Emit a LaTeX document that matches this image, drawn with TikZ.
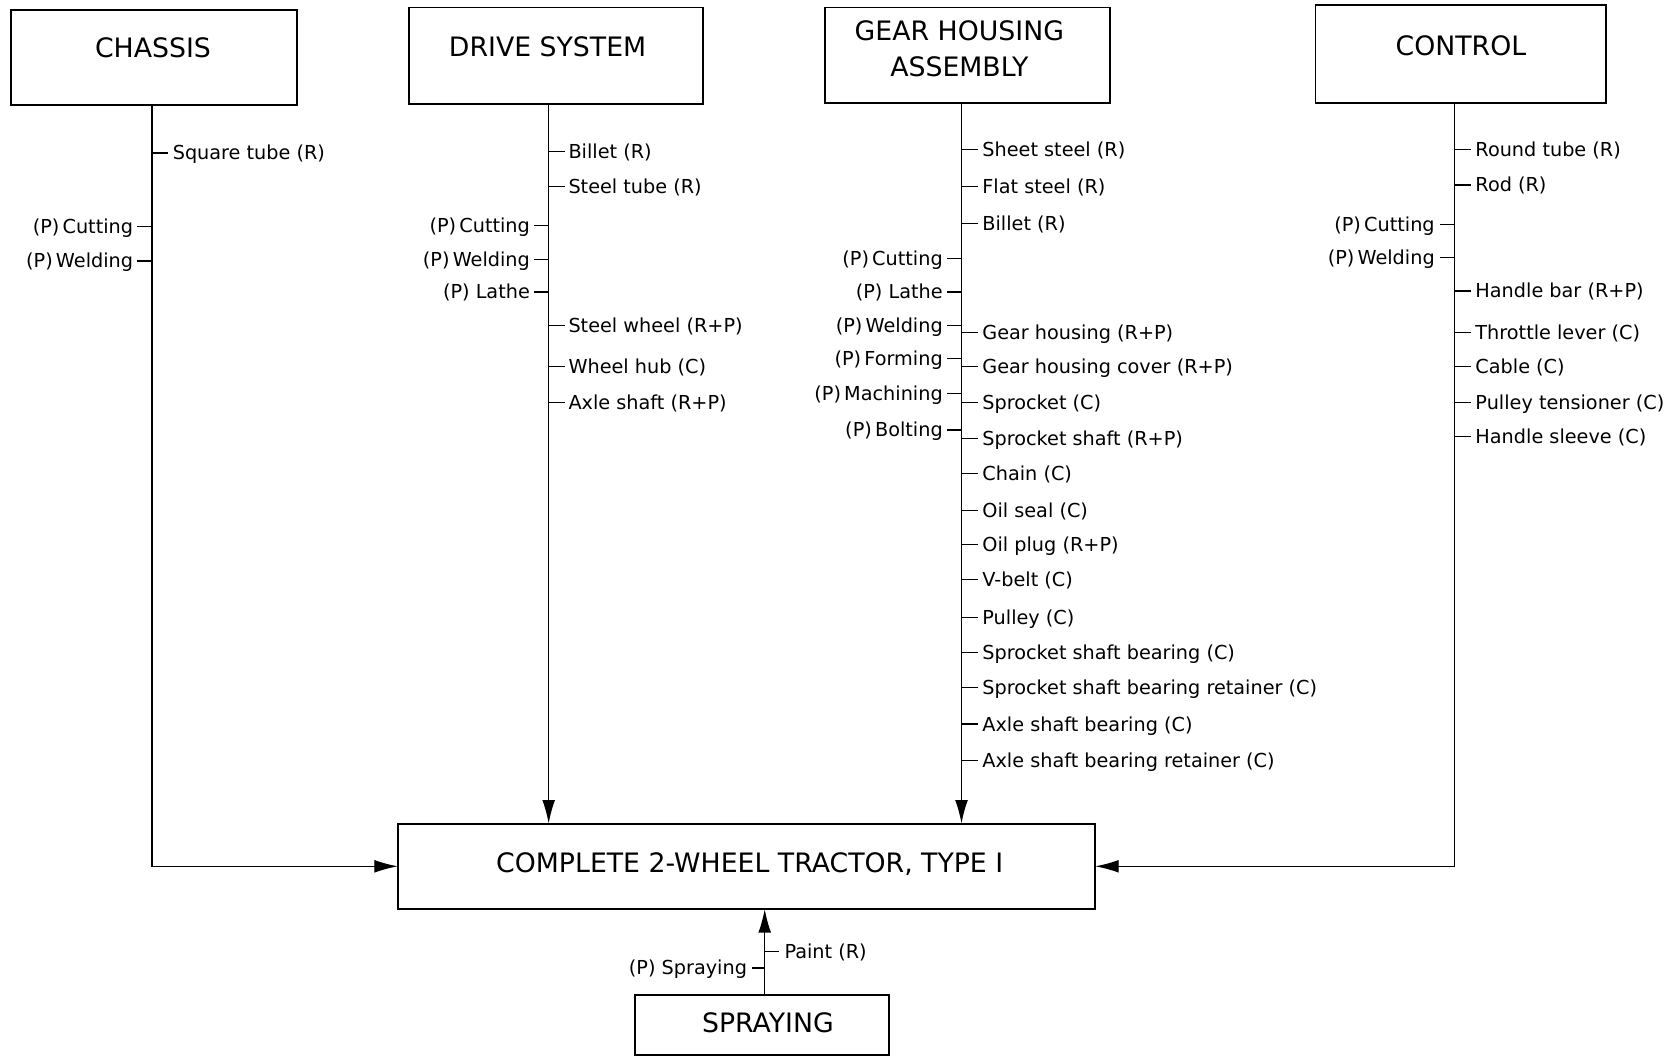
\documentclass[tikz,border=0pt]{standalone}
\usepackage{fontspec}
\setmainfont{DejaVu Sans}
\usetikzlibrary{arrows.meta}
\begin{document}
\begin{tikzpicture}[x=1pt,y=-1pt,
  box/.style={draw,line width=1.8pt,inner sep=0pt,outer sep=0pt},
  title/.style={font=\fontsize{25}{33}\selectfont,align=center,inner sep=0pt},
  lab/.style={font=\fontsize{18}{20}\selectfont,inner sep=0pt,text height=13pt,text depth=0pt},
  tk/.style={line width=1.1pt},
  conn/.style={line width=1.2pt},
  arr/.style={conn,-{Latex[length=22pt,width=12pt]}}]
\useasboundingbox[fill=white] (0,0) rectangle (1568,991);

% boxes
\node[box,minimum width=268pt,minimum height=89pt] (chassis) at (144,53.5) {};
\node[title] (chassis-t) at (143,45) {CHASSIS};
\node[box,minimum width=275pt,minimum height=90pt] (drive) at (519.5,52) {};
\node[title] (drive-t) at (512,44) {DRIVE SYSTEM};
\node[box,minimum width=267pt,minimum height=89pt] (gear) at (904.5,51.5) {};
\node[title] (gear-t) at (897,45.5) {GEAR HOUSING\\ASSEMBLY};
\node[box,minimum width=272pt,minimum height=91pt] (control) at (1366,50.5) {};
\node[title] (control-t) at (1366,43) {CONTROL};
\node[box,minimum width=652pt,minimum height=80pt] (main) at (698,810) {};
\node[title] (main-t) at (701,808) {COMPLETE 2-WHEEL TRACTOR, TYPE I};
\node[box,minimum width=237pt,minimum height=56pt] (spray) at (712.5,958) {};
\node[title] (spray-t) at (718,956) {SPRAYING};

% connectors
\draw[arr] ([xshift=-2pt]chassis.south) |- (main.west);
\draw[arr] ([xshift=-6.5pt]drive.south) -- ([xshift=-6.5pt]drive.south |- main.north);
\draw[arr] ([xshift=-5.5pt]gear.south) -- ([xshift=-5.5pt]gear.south |- main.north);
\draw[arr] ([xshift=-6pt]control.south) |- (main.east);
\draw[arr] ([xshift=2.5pt]spray.north) -- ([xshift=2.5pt]spray.north |- main.south);

% chassis labels
\foreach \y/\t [count=\i] in {143/Square tube (R)}
  \draw[tk] (142,\y) -- ++(15,0) node[lab,anchor=west,xshift=4pt] (cr\i) {\t};
\foreach \y/\t [count=\i] in {212/(P)\,Cutting,244/(P)\,Welding}
  \draw[tk] (142,\y) -- ++(-14,0) node[lab,anchor=east,xshift=-3pt] (cl\i) {\t};

% drive labels
\foreach \y/\t [count=\i] in {142/Billet (R),174/Steel tube (R),304/Steel wheel (R+P),343/Wheel hub (C),376/Axle shaft (R+P)}
  \draw[tk] (513,\y) -- ++(15,0) node[lab,anchor=west,xshift=3pt] (dr\i) {\t};
\foreach \y/\t [count=\i] in {211/(P)\,Cutting,243/(P)\,Welding,273/(P) Lathe}
  \draw[tk] (513,\y) -- ++(-14,0) node[lab,anchor=east,xshift=-3pt] (dl\i) {\t};

% gear labels
\foreach \y/\t [count=\i] in {140/Sheet steel (R),174/Flat steel (R),209/Billet (R),311/Gear housing (R+P),343/Gear housing cover (R+P),376/Sprocket (C),410/Sprocket shaft (R+P),443/Chain (C),477/Oil seal (C),509/Oil plug (R+P),542/V-belt (C),577/Pulley (C),610/Sprocket shaft bearing (C),643/Sprocket shaft bearing retainer (C),677/Axle shaft bearing (C),711/Axle shaft bearing retainer (C)}
  \draw[tk] (899,\y) -- ++(15,0) node[lab,anchor=west,xshift=4pt] (gr\i) {\t};
\foreach \y/\t [count=\i] in {242/(P)\,Cutting,273/(P) Lathe,304/(P)\,Welding,335/(P)\,Forming,368/(P)\,Machining,402/(P)\,Bolting}
  \draw[tk] (899,\y) -- ++(-14,0) node[lab,anchor=east,xshift=-3pt] (gl\i) {\t};

% control labels
\foreach \y/\t [count=\i] in {140/Round tube (R),173/Rod (R),272/Handle bar (R+P),311/Throttle lever (C),343/Cable (C),376/Pulley tensioner (C),408/Handle sleeve (C)}
  \draw[tk] (1360,\y) -- ++(15,0) node[lab,anchor=west,xshift=4pt] (kr\i) {\t};
\foreach \y/\t [count=\i] in {210/(P)\,Cutting,241/(P)\,Welding}
  \draw[tk] (1360,\y) -- ++(-14,0) node[lab,anchor=east,xshift=-4pt] (kl\i) {\t};

% spraying labels
\draw[tk] (715,890) -- ++(13,0) node[lab,anchor=west,xshift=5pt] (sr1) {Paint (R)};
\draw[tk] (715,905) -- ++(-12,0) node[lab,anchor=east,xshift=-4pt] (sl1) {(P) Spraying};
\end{tikzpicture}
\end{document}
